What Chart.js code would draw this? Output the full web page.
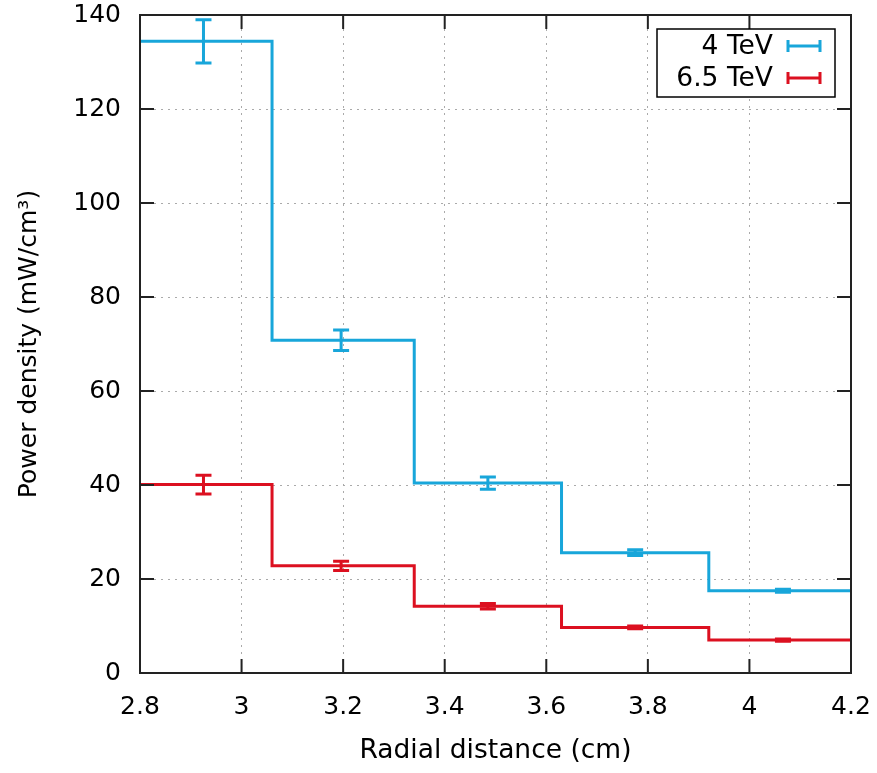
<!DOCTYPE html>
<html>
<head>
<meta charset="utf-8">
<script src="https://cdn.jsdelivr.net/npm/chart.js@4.4.0/dist/chart.umd.min.js"></script>
<style>
  body { margin: 0; background: #fff; }
  #wrap { width: 877px; height: 773px; }
</style>
</head>
<body>
<div id="wrap"><canvas id="power-chart" width="877" height="773"></canvas></div>
<script>
// histogram bin edges (cm) and the bin centres where the error bars sit
const binEdges = [2.8, 3.06, 3.34, 3.63, 3.92, 4.2];
const binCentres = [2.925, 3.196, 3.485, 3.775, 4.066];

// power density per bin (mW/cm^3) with its uncertainty
const power4TeV = [134.4, 70.8, 40.4, 25.6, 17.5];
const err4TeV = [4.6, 2.2, 1.3, 0.6, 0.3];

const power65TeV = [40.1, 22.8, 14.2, 9.7, 7.0];
const err65TeV = [2.0, 1.0, 0.6, 0.3, 0.25];

const xTicks = [2.8, 3, 3.2, 3.4, 3.6, 3.8, 4, 4.2];
const yTicks = [0, 20, 40, 60, 80, 100, 120, 140];

const FONT = 'DejaVu Sans';

// one point per left bin edge, plus the last right edge to close the step
function steps(values) {
    const pts = values.map((v, i) => ({ x: binEdges[i], y: v }));
    pts.push({ x: binEdges[binEdges.length - 1], y: values[values.length - 1] });
    return pts;
}

// vertical error bars with caps at every bin centre
const errorBars = {
    id: 'errorBars',
    afterDatasetsDraw(chart) {
        const ctx = chart.ctx;
        const xs = chart.scales.x;
        const ys = chart.scales.y;
        chart.data.datasets.forEach((ds, i) => {
            if (!chart.isDatasetVisible(i)) return;
            ctx.save();
            ctx.strokeStyle = ds.borderColor;
            ctx.lineWidth = 3;
            ds.errX.forEach((cx, j) => {
                const x = xs.getPixelForValue(cx);
                const y1 = ys.getPixelForValue(ds.errY[j] + ds.errSize[j]);
                const y2 = ys.getPixelForValue(ds.errY[j] - ds.errSize[j]);
                ctx.beginPath();
                ctx.moveTo(x, y1);
                ctx.lineTo(x, y2);
                ctx.moveTo(x - 8, y1);
                ctx.lineTo(x + 8, y1);
                ctx.moveTo(x - 8, y2);
                ctx.lineTo(x + 8, y2);
                ctx.stroke();
            });
            ctx.restore();
        });
    }
};

// closed border with tick marks pointing inwards on all four sides
const frame = {
    id: 'frame',
    afterDatasetsDraw(chart) {
        const { ctx, chartArea } = chart;
        const { left, right, top, bottom } = chartArea;
        const xs = chart.scales.x;
        const ys = chart.scales.y;
        const len = 14;
        ctx.save();
        ctx.strokeStyle = '#222';
        ctx.lineWidth = 2;
        ctx.beginPath();
        xTicks.forEach(v => {
            const x = xs.getPixelForValue(v);
            ctx.moveTo(x, bottom);
            ctx.lineTo(x, bottom - len);
            ctx.moveTo(x, top);
            ctx.lineTo(x, top + len);
        });
        yTicks.forEach(v => {
            const y = ys.getPixelForValue(v);
            ctx.moveTo(left, y);
            ctx.lineTo(left + len, y);
            ctx.moveTo(right, y);
            ctx.lineTo(right - len, y);
        });
        ctx.stroke();
        ctx.strokeRect(left, top, right - left, bottom - top);
        ctx.restore();
    }
};

// key in the top right corner: label then a small error bar sample
const keyBox = {
    id: 'keyBox',
    afterDraw(chart) {
        const { ctx, chartArea } = chart;
        const right = chartArea.right - 16;
        const top = chartArea.top + 14;
        const w = 178, h = 68;
        ctx.save();
        ctx.fillStyle = '#fff';
        ctx.fillRect(right - w, top, w, h);
        ctx.strokeStyle = '#000';
        ctx.lineWidth = 1.5;
        ctx.strokeRect(right - w, top, w, h);
        ctx.font = '26.5px "' + FONT + '"';
        ctx.textAlign = 'right';
        ctx.textBaseline = 'middle';
        chart.data.datasets.forEach((ds, i) => {
            const y = top + 17 + i * 32;
            ctx.fillStyle = '#000';
            ctx.fillText(ds.label, right - 62, y + 1);
            const x1 = right - 47, x2 = right - 15;
            ctx.strokeStyle = ds.borderColor;
            ctx.lineWidth = 3;
            ctx.beginPath();
            ctx.moveTo(x1, y);
            ctx.lineTo(x2, y);
            ctx.moveTo(x1, y - 6);
            ctx.lineTo(x1, y + 6);
            ctx.moveTo(x2, y - 6);
            ctx.lineTo(x2, y + 6);
            ctx.stroke();
        });
        ctx.restore();
    }
};

const powerCanvas = document.getElementById('power-chart');

let powerChart = new Chart(powerCanvas, {
    type: 'line',
    data: {
        datasets: [{
            label: '4 TeV',
            data: steps(power4TeV),
            errX: binCentres,
            errY: power4TeV,
            errSize: err4TeV,
            borderColor: '#18a6da',
            borderWidth: 3,
            stepped: true,
            fill: false
        }, {
            label: '6.5 TeV',
            data: steps(power65TeV),
            errX: binCentres,
            errY: power65TeV,
            errSize: err65TeV,
            borderColor: '#dc1020',
            borderWidth: 3,
            stepped: true,
            fill: false
        }]
    },
    options: {
        responsive: false,
        animation: false,
        layout: { padding: { top: 15, right: 26, left: 0, bottom: 0 } },
        elements: { point: { radius: 0 } },
        plugins: {
            legend: { display: false },
            tooltip: { enabled: false }
        },
        scales: {
            x: {
                type: 'linear',
                min: 2.8,
                max: 4.2,
                afterBuildTicks: s => { s.ticks = xTicks.map(v => ({ value: v })); },
                afterFit: s => {
                    s.height = 100;
                    s.paddingLeft = 0;
                    s.paddingRight = 0;
                },
                grid: { color: '#aaa', lineWidth: 1, drawTicks: false },
                border: { display: false, dash: [2, 5] },
                ticks: {
                    padding: 19,
                    color: '#000',
                    font: { family: FONT, size: 25 },
                    callback: v => String(v)
                },
                title: {
                    display: true,
                    text: 'Radial distance (cm)',
                    color: '#000',
                    font: { family: FONT, size: 26.5 },
                    padding: { top: 6, bottom: 6 }
                }
            },
            y: {
                type: 'linear',
                min: 0,
                max: 140,
                afterBuildTicks: s => { s.ticks = yTicks.map(v => ({ value: v })); },
                afterFit: s => {
                    s.width = 140;
                    s.paddingTop = 0;
                    s.paddingBottom = 0;
                },
                grid: { color: '#aaa', lineWidth: 1, drawTicks: false },
                border: { display: false, dash: [2, 5] },
                ticks: {
                    padding: 19,
                    color: '#000',
                    font: { family: FONT, size: 25 },
                    callback: v => String(v)
                },
                title: {
                    display: true,
                    text: 'Power density (mW/cm³)',
                    color: '#000',
                    font: { family: FONT, size: 25 },
                    padding: { top: 14, bottom: 14 }
                }
            }
        }
    },
    plugins: [errorBars, frame, keyBox]
});
</script>
</body>
</html>
